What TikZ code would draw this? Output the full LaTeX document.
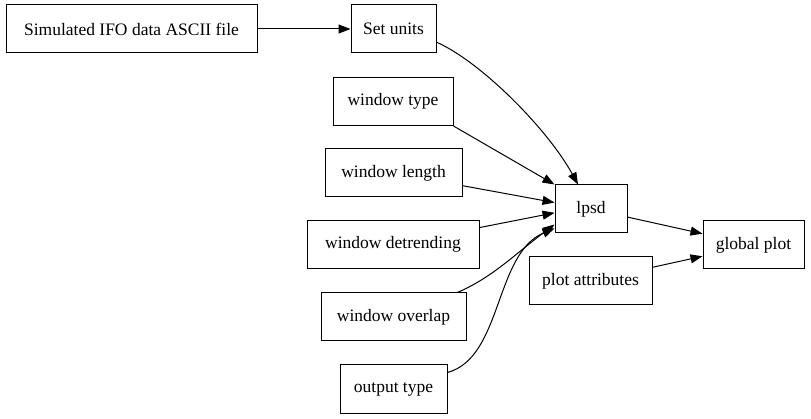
\documentclass[tikz,border=0pt]{standalone}
\usepackage{fontspec}
\setmainfont{Liberation Serif}
\usepackage{tikz}
\usetikzlibrary{positioning,arrows.meta,calc}

\tikzset{
    box/.style={draw, rectangle, line width=1pt, minimum height=48pt, inner sep=2pt, font=\fontsize{17.5pt}{20pt}\selectfont},
    flow/.style={line width=1pt, -{Triangle[length=12pt,width=9pt]}}
}

\begin{document}
\begin{tikzpicture}[x=1pt, y=-1pt]
    \useasboundingbox (0,0) rectangle (811,419);

    \node[box, minimum width=251pt] (sim) at (131.5,29) {Simulated IFO data ASCII file};
    \node[box, minimum width=85pt] (setu) at (393.5,29) {Set units};

    \node[box, minimum width=120pt] (wtype) at (393,101.5) {window type};
    \node[box, minimum width=137pt] (wlen) at (393.5,173) {window length};
    \node[box, minimum width=172pt] (wdet) at (393,244.5) {window detrending};
    \node[box, minimum width=145pt] (wover) at (393.5,317) {window overlap};
    \node[box, minimum width=107pt] (otype) at (393.5,389) {output type};

    \node[box, minimum width=72pt] (lpsd) at (591,209) {lpsd};
    \node[box, minimum width=123pt] (pattr) at (590.5,281) {plot attributes};
    \node[box, minimum width=101pt] (gplot) at (753.5,245) {global plot};

    \draw[flow] (sim) -- (setu);
    \draw[flow] (setu.-17) .. controls +(45,20) and +(-30,-55) .. (lpsd.118);
    \draw[flow] (wtype.south east) -- (lpsd.north west);
    \draw[flow] (wlen) -- (lpsd.170);
    \draw[flow] (wdet) -- (lpsd.186);
    \draw[flow] (wover.21) .. controls +(35,-15) and +(-40,30) .. (lpsd.203);
    \draw[flow] (otype.17) .. controls +(55,-15) and +(-60,25) .. (lpsd.208);
    \draw[flow] (lpsd) -- (gplot);
    \draw[flow] (pattr) -- (gplot);
\end{tikzpicture}
\end{document}
